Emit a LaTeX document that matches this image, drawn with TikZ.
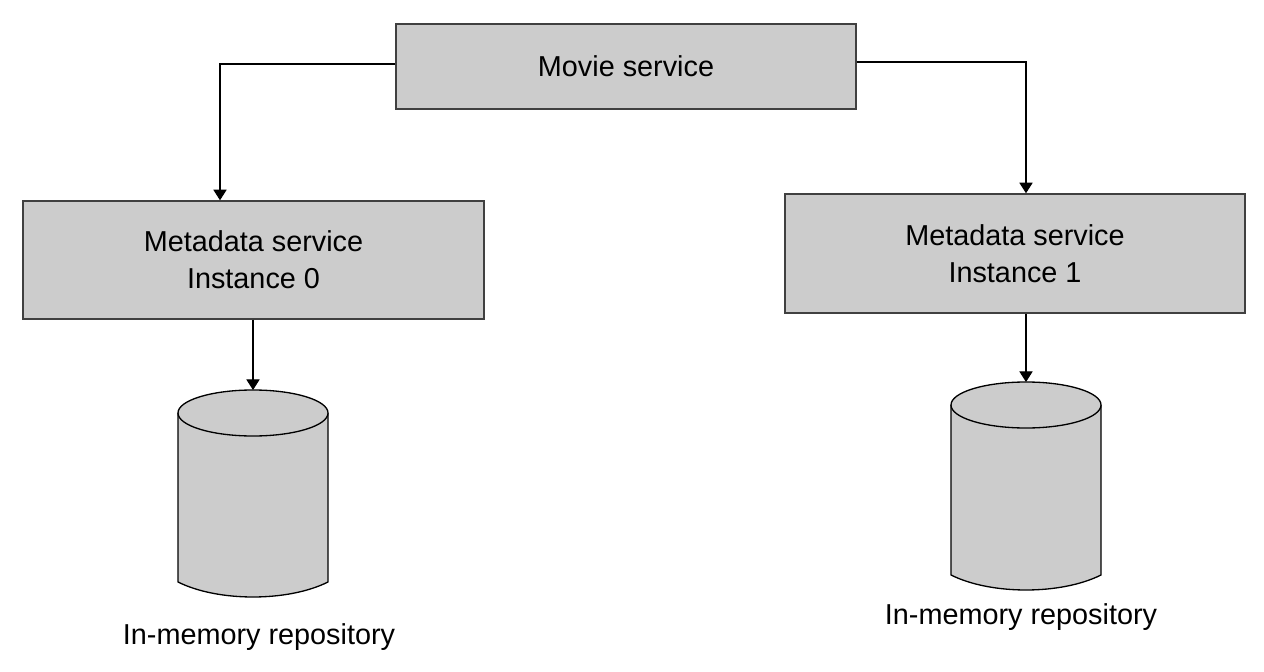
\documentclass[tikz,border=0pt]{standalone}
\usepackage{fontspec}
\setmainfont{Liberation Sans}
\usetikzlibrary{arrows.meta}
\definecolor{BoxGray}{RGB}{204,204,204}
\definecolor{EdgeGray}{RGB}{64,64,64}

\begin{document}
\begin{tikzpicture}[x=0.02cm,y=-0.02cm,
  box/.style={draw=EdgeGray,fill=BoxGray,line width=0.85pt,align=center,inner sep=0pt,font=\fontsize{16.4}{21}\selectfont},
  db/.style={draw=black,fill=BoxGray,line width=0.75pt},
  lbl/.style={align=center,font=\fontsize{16.4}{21}\selectfont},
  arr/.style={-{Triangle[length=6pt,width=7.5pt]},line width=0.6pt,black}
]
\useasboundingbox (0,0) rectangle (1264,672);
\node[box,minimum width=9.2cm,minimum height=1.7cm] (movie) at (626,66.5) {Movie service};
\node[box,minimum width=9.22cm,minimum height=2.36cm] (meta0) at (253.5,260) {Metadata service\\Instance 0};
\node[box,minimum width=9.2cm,minimum height=2.38cm] (meta1) at (1015,253.5) {Metadata service\\Instance 1};
\filldraw[db] (178,413) -- (178,582) .. controls (218,602) and (288,602) .. (328,582) -- (328,413);
\filldraw[db] (253,413) ellipse [x radius=75,y radius=23];
\filldraw[db] (951,405) -- (951,575) .. controls (991,595) and (1061,595) .. (1101,575) -- (1101,405);
\filldraw[db] (1026,405) ellipse [x radius=75,y radius=23];
\coordinate (repo0) at (253,390);
\coordinate (repo1) at (1026,382);
\coordinate (bend0) at (220,64);
\coordinate (bend1) at (1026,62);
\node[lbl] (lab0) at (259,637) {In-memory repository};
\node[lbl] (lab1) at (1021,617) {In-memory repository};
\draw[arr] (movie.west |- bend0) -- (bend0) -- (bend0 |- meta0.north);
\draw[arr] (movie.east |- bend1) -- (bend1) -- (bend1 |- meta1.north);
\draw[arr] (meta0.south -| repo0) -- (repo0);
\draw[arr] (meta1.south -| repo1) -- (repo1);
\end{tikzpicture}
\end{document}
